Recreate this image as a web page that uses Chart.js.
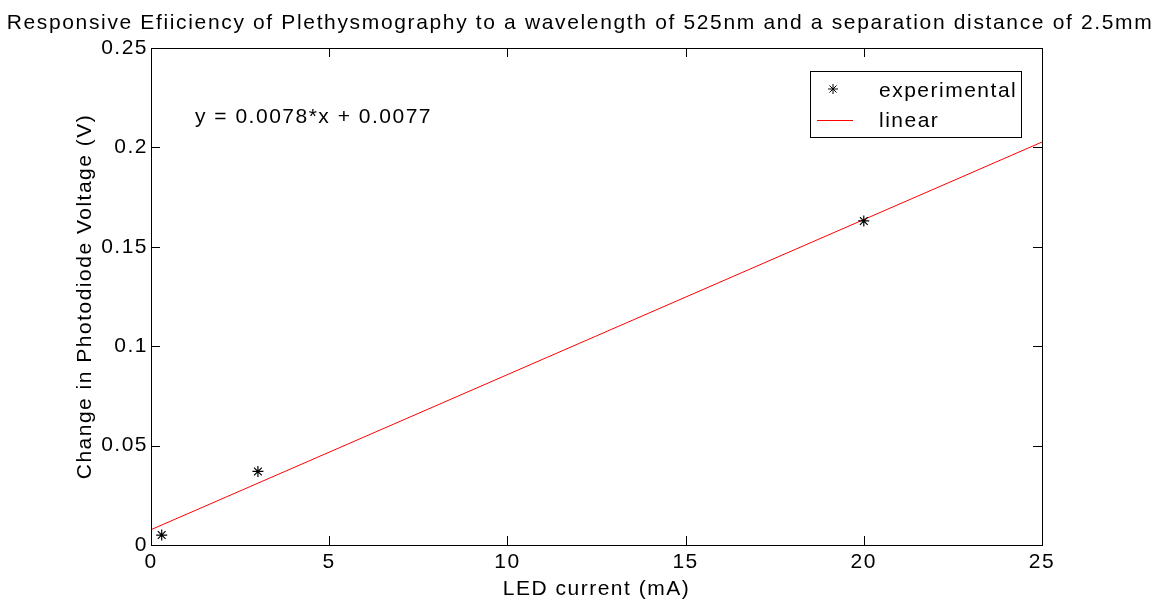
<!DOCTYPE html>
<html>
<head>
<meta charset="utf-8">
<script src="https://cdn.jsdelivr.net/npm/chart.js@4/dist/chart.umd.min.js"></script>
<style>
  body { margin: 0; background: #fff; }
  canvas { display: block; }
</style>
</head>
<body>
<canvas id="myChart" width="1158" height="601"></canvas>
<script>
// data
const ledCurrent = [0.3, 3, 20];
const voltageChange = [0.005, 0.037, 0.163];
const fitX = [0, 25];
const fitY = [0.0077, 0.2027];
const xTickLabels = ["0", "5", "10", "15", "20", "25"];
const yTickLabels = ["0", "0.05", "0.1", "0.15", "0.2", "0.25"];

const titleText = "Responsive Efiiciency of Plethysmography to a wavelength of 525nm and a separation distance of 2.5mm";
const xTitle = "LED current (mA)";
const yTitle = "Change in Photodiode Voltage (V)";
const fitText = "y = 0.0078*x + 0.0077";

const FONT = "Liberation Sans, Arial, Helvetica, sans-serif";
const SPACING = "1.5px";

function toPoints(xs, ys) {
  let pts = [];
  for (let i = 0; i < xs.length; i++) {
    pts.push({ x: xs[i], y: ys[i] });
  }
  return pts;
}

function drawStar(ctx, x, y, r) {
  ctx.save();
  ctx.strokeStyle = "#000";
  ctx.lineWidth = 1;
  ctx.beginPath();
  for (let i = 0; i < 4; i++) {
    let ang = (i * Math.PI) / 4;
    ctx.moveTo(x - r * Math.cos(ang), y - r * Math.sin(ang));
    ctx.lineTo(x + r * Math.cos(ang), y + r * Math.sin(ang));
  }
  ctx.stroke();
  ctx.restore();
}

// frame, inward ticks, titles, annotation and legend
const matlabLook = {
  id: "matlabLook",
  beforeDraw(chart) {
    // the reference text is set a little wider than Arial
    chart.ctx.letterSpacing = SPACING;
  },
  afterDraw(chart) {
    const ctx = chart.ctx;
    const a = chart.chartArea;
    const xs = chart.scales.x;
    const ys = chart.scales.y;
    const tick = 9;

    ctx.save();
    ctx.strokeStyle = "#000";
    ctx.lineWidth = 1;
    ctx.strokeRect(Math.round(a.left) + 0.5, Math.round(a.top) + 0.5,
      Math.round(a.right - a.left), Math.round(a.bottom - a.top));

    ctx.beginPath();
    xs.ticks.forEach((t) => {
      let px = Math.round(xs.getPixelForValue(t.value)) + 0.5;
      ctx.moveTo(px, a.bottom);
      ctx.lineTo(px, a.bottom - tick);
      ctx.moveTo(px, a.top);
      ctx.lineTo(px, a.top + tick);
    });
    ys.ticks.forEach((t) => {
      let py = Math.round(ys.getPixelForValue(t.value)) + 0.5;
      ctx.moveTo(a.left, py);
      ctx.lineTo(a.left + tick, py);
      ctx.moveTo(a.right, py);
      ctx.lineTo(a.right - tick, py);
    });
    ctx.stroke();

    ctx.fillStyle = "#000";
    ctx.textBaseline = "alphabetic";

    // title
    ctx.font = "21px " + FONT;
    ctx.letterSpacing = "1.65px";
    ctx.textAlign = "center";
    ctx.fillText(titleText, 580, 29);
    ctx.letterSpacing = SPACING;

    // axis titles
    ctx.fillText(xTitle, (a.left + a.right) / 2, 595);
    ctx.save();
    ctx.translate(91, (a.top + a.bottom) / 2);
    ctx.rotate(-Math.PI / 2);
    ctx.fillText(yTitle, 0, 0);
    ctx.restore();

    // fit equation
    ctx.textAlign = "left";
    ctx.fillText(fitText, 195, 123);

    // legend
    const ds = chart.data.datasets;
    ctx.fillStyle = "#fff";
    ctx.fillRect(810, 71, 212, 67);
    ctx.strokeStyle = "#000";
    ctx.strokeRect(810.5, 71.5, 211, 66);

    drawStar(ctx, 833, 89, 5);
    ctx.strokeStyle = "red";
    ctx.beginPath();
    ctx.moveTo(817, 120.5);
    ctx.lineTo(853, 120.5);
    ctx.stroke();

    ctx.fillStyle = "#000";
    ctx.fillText(ds[0].label, 879, 97);
    ctx.fillText(ds[1].label, 879, 127);
    ctx.restore();
  },
};

const ctx = document.getElementById("myChart");

new Chart(ctx, {
  type: "scatter",
  data: {
    datasets: [
      {
        label: "experimental",
        data: toPoints(ledCurrent, voltageChange),
        pointStyle: "star",
        radius: 5.5,
        borderColor: "#000",
        backgroundColor: "#000",
        borderWidth: 1.2,
        showLine: false,
      },
      {
        label: "linear",
        data: toPoints(fitX, fitY),
        showLine: true,
        borderColor: "red",
        borderWidth: 1,
        pointRadius: 0,
        fill: false,
      },
    ],
  },
  options: {
    responsive: false,
    animation: false,
    layout: {
      padding: { top: 48, right: 116, left: 0, bottom: 0 },
    },
    plugins: {
      legend: { display: false },
      title: { display: false },
      tooltip: { enabled: false },
    },
    scales: {
      x: {
        type: "linear",
        min: 0,
        max: 25,
        afterFit: (scale) => { scale.height = 56; },
        grid: { display: false, drawTicks: false },
        border: { display: false },
        ticks: {
          stepSize: 5,
          padding: 5,
          color: "#000",
          font: { family: FONT, size: 21 },
          maxRotation: 0,
          callback: (v, i) => xTickLabels[i],
        },
      },
      y: {
        type: "linear",
        min: 0,
        max: 0.25,
        afterFit: (scale) => { scale.width = 151; },
        grid: { display: false, drawTicks: false },
        border: { display: false },
        ticks: {
          stepSize: 0.05,
          padding: 3,
          color: "#000",
          font: { family: FONT, size: 21 },
          callback: (v, i) => yTickLabels[i],
        },
      },
    },
  },
  plugins: [matlabLook],
});
</script>
</body>
</html>
